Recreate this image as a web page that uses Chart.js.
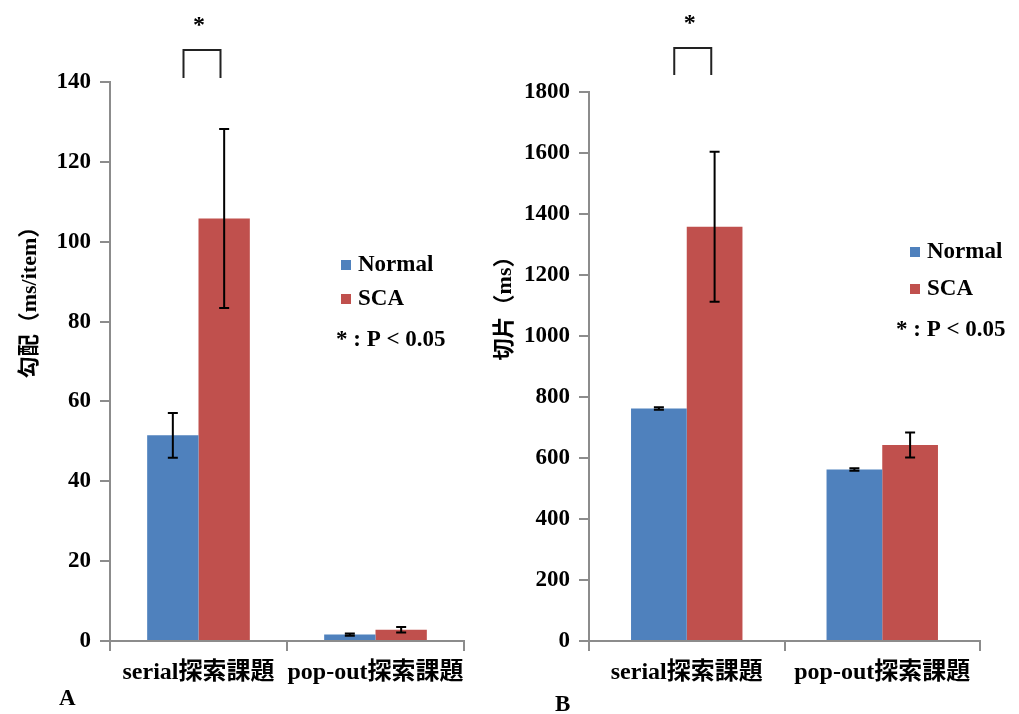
<!DOCTYPE html>
<html>
<head>
<meta charset="utf-8">
<script src="https://cdn.jsdelivr.net/npm/chart.js@4"></script>
<style>
body { margin:0; background:#fff; width:1019px; height:714px; overflow:hidden; position:relative; }
canvas { position:absolute; top:0; }
#chartA { left:0; }
#chartB { left:480px; }
.panel { position:absolute; font:bold 23px 'Liberation Serif', serif; color:#000; }
</style>
</head>
<body>
<canvas id="chartA" width="480" height="714"></canvas>
<canvas id="chartB" width="539" height="714"></canvas>
<div class="panel" style="left:59px;top:685px">A</div>
<div class="panel" style="left:555px;top:691px">B</div>
<script>
// ----- data -----
var categories = ['serial探索課題', 'pop-out探索課題'];
var seriesNames = ['Normal', 'SCA'];
var sigText = '* : P < 0.05';

// A: 勾配 (ms/item)
var slopeNormal = [51.5, 1.6];
var slopeSCA = [105.8, 2.8];
var slopeNormalErr = [5.6, 0.3];
var slopeSCAErr = [22.4, 0.7];

// B: 切片 (ms)
var interceptNormal = [762, 562];
var interceptSCA = [1358, 643];
var interceptNormalErr = [4, 4];
var interceptSCAErr = [246, 41];

var FONT = "'Liberation Serif', 'Noto Sans CJK JP', serif";
var AXIS_GRAY = '#8c8c8c';
var BLUE = '#4f81bd';
var RED = '#c0504d';

// error bars, legend, y title and significance bracket
var extras = {
    id: 'extras',
    afterDatasetsDraw: function(chart) {
        var ctx = chart.ctx;
        var y = chart.scales.y;
        var errs = chart.options.plugins.extras.errors;
        ctx.save();
        ctx.strokeStyle = '#000';
        ctx.lineWidth = 2;
        chart.data.datasets.forEach(function(ds, i) {
            chart.getDatasetMeta(i).data.forEach(function(bar, j) {
                var v = ds.data[j], e = errs[i][j];
                var top = y.getPixelForValue(v + e);
                var bot = y.getPixelForValue(v - e);
                ctx.beginPath();
                ctx.moveTo(bar.x, top); ctx.lineTo(bar.x, bot);
                ctx.moveTo(bar.x - 5, top); ctx.lineTo(bar.x + 5, top);
                ctx.moveTo(bar.x - 5, bot); ctx.lineTo(bar.x + 5, bot);
                ctx.stroke();
            });
        });
        ctx.restore();
    },
    afterDraw: function(chart) {
        var ctx = chart.ctx;
        var o = chart.options.plugins.extras;
        ctx.save();
        // legend
        ctx.font = 'bold 23px ' + FONT;
        ctx.textBaseline = 'middle';
        ctx.fillStyle = '#000';
        chart.data.datasets.forEach(function(ds, i) {
            var ly = o.legendY + i * o.legendGap;
            ctx.fillStyle = ds.backgroundColor;
            ctx.fillRect(o.legendX, ly - 5, 10, 10);
            ctx.fillStyle = '#000';
            ctx.fillText(ds.label, o.legendX + 17, ly);
        });
        ctx.fillText(sigText, o.sigX, o.sigY);

        // y axis title (sits above the axis centre in the original)
        ctx.save();
        ctx.translate(o.titleX, o.titleY);
        ctx.rotate(-Math.PI / 2);
        ctx.textAlign = 'center';
        ctx.font = 'bold 22px ' + FONT;
        ctx.fillText(o.title, 0, 0);
        ctx.restore();

        // bracket over first category
        var m0 = chart.getDatasetMeta(0).data[0];
        var m1 = chart.getDatasetMeta(1).data[0];
        var cx = (m0.x + m1.x) / 2 + o.bracketDx;
        ctx.strokeStyle = '#222';
        ctx.lineWidth = 2;
        ctx.beginPath();
        ctx.moveTo(cx - 18.5, o.bracketBottom);
        ctx.lineTo(cx - 18.5, o.bracketTop);
        ctx.lineTo(cx + 18.5, o.bracketTop);
        ctx.lineTo(cx + 18.5, o.bracketBottom);
        ctx.stroke();
        ctx.textAlign = 'center';
        ctx.font = 'bold 24px ' + FONT;
        ctx.fillText('*', cx - 3, o.starY);
        ctx.restore();
    }
};

function makeChart(id, normal, sca, errN, errS, yMax, yStep, pad, yWidth, catPct, ex) {
    return new Chart(document.getElementById(id), {
        type: 'bar',
        data: {
            labels: categories,
            datasets: [
                { label: seriesNames[0], data: normal, backgroundColor: BLUE },
                { label: seriesNames[1], data: sca, backgroundColor: RED }
            ]
        },
        options: {
            responsive: false,
            animation: false,
            layout: { padding: pad },
            datasets: { bar: { categoryPercentage: catPct, barPercentage: 1 } },
            plugins: {
                legend: { display: false },
                tooltip: { enabled: false },
                extras: Object.assign({ errors: [errN, errS] }, ex)
            },
            scales: {
                x: {
                    grid: { drawOnChartArea: false, tickLength: 10, color: AXIS_GRAY, lineWidth: 2 },
                    border: { color: AXIS_GRAY, width: 2 },
                    ticks: {
                        color: '#000', padding: 7, autoSkip: false, maxRotation: 0, minRotation: 0,
                        font: { family: FONT, size: 24, weight: 'bold' }
                    },
                    afterFit: function(s) { s.height = 73; }
                },
                y: {
                    min: 0, max: yMax,
                    grid: { drawOnChartArea: false, tickLength: 10, color: AXIS_GRAY, lineWidth: 2 },
                    border: { color: AXIS_GRAY, width: 2 },
                    ticks: {
                        stepSize: yStep, color: '#000', padding: 9,
                        font: { family: FONT, size: 23, weight: 'bold' },
                        callback: function(v) { return String(v); }
                    },
                    afterFit: function(s) { s.width = yWidth; }
                }
            }
        },
        plugins: [extras]
    });
}

makeChart('chartA', slopeNormal, slopeSCA, slopeNormalErr, slopeSCAErr, 140, 20,
    { left: 0, right: 16, top: 82, bottom: 0 }, 110, 0.58,
    { title: '勾配（ms/item）', titleX: 30, titleY: 297,
      legendX: 341, legendY: 265, legendGap: 34, sigX: 336, sigY: 340, bracketTop: 50, bracketBottom: 78, starY: 26, bracketDx: 3.5 });

makeChart('chartB', interceptNormal, interceptSCA, interceptNormalErr, interceptSCAErr, 1800, 200,
    { left: 0, right: 39, top: 92, bottom: 0 }, 109, 0.57,
    { title: '切片（ms）', titleX: 25, titleY: 303,
      legendX: 430, legendY: 252, legendGap: 37, sigX: 416, sigY: 330, bracketTop: 48, bracketBottom: 75, starY: 24, bracketDx: 6 });
</script>
</body>
</html>
